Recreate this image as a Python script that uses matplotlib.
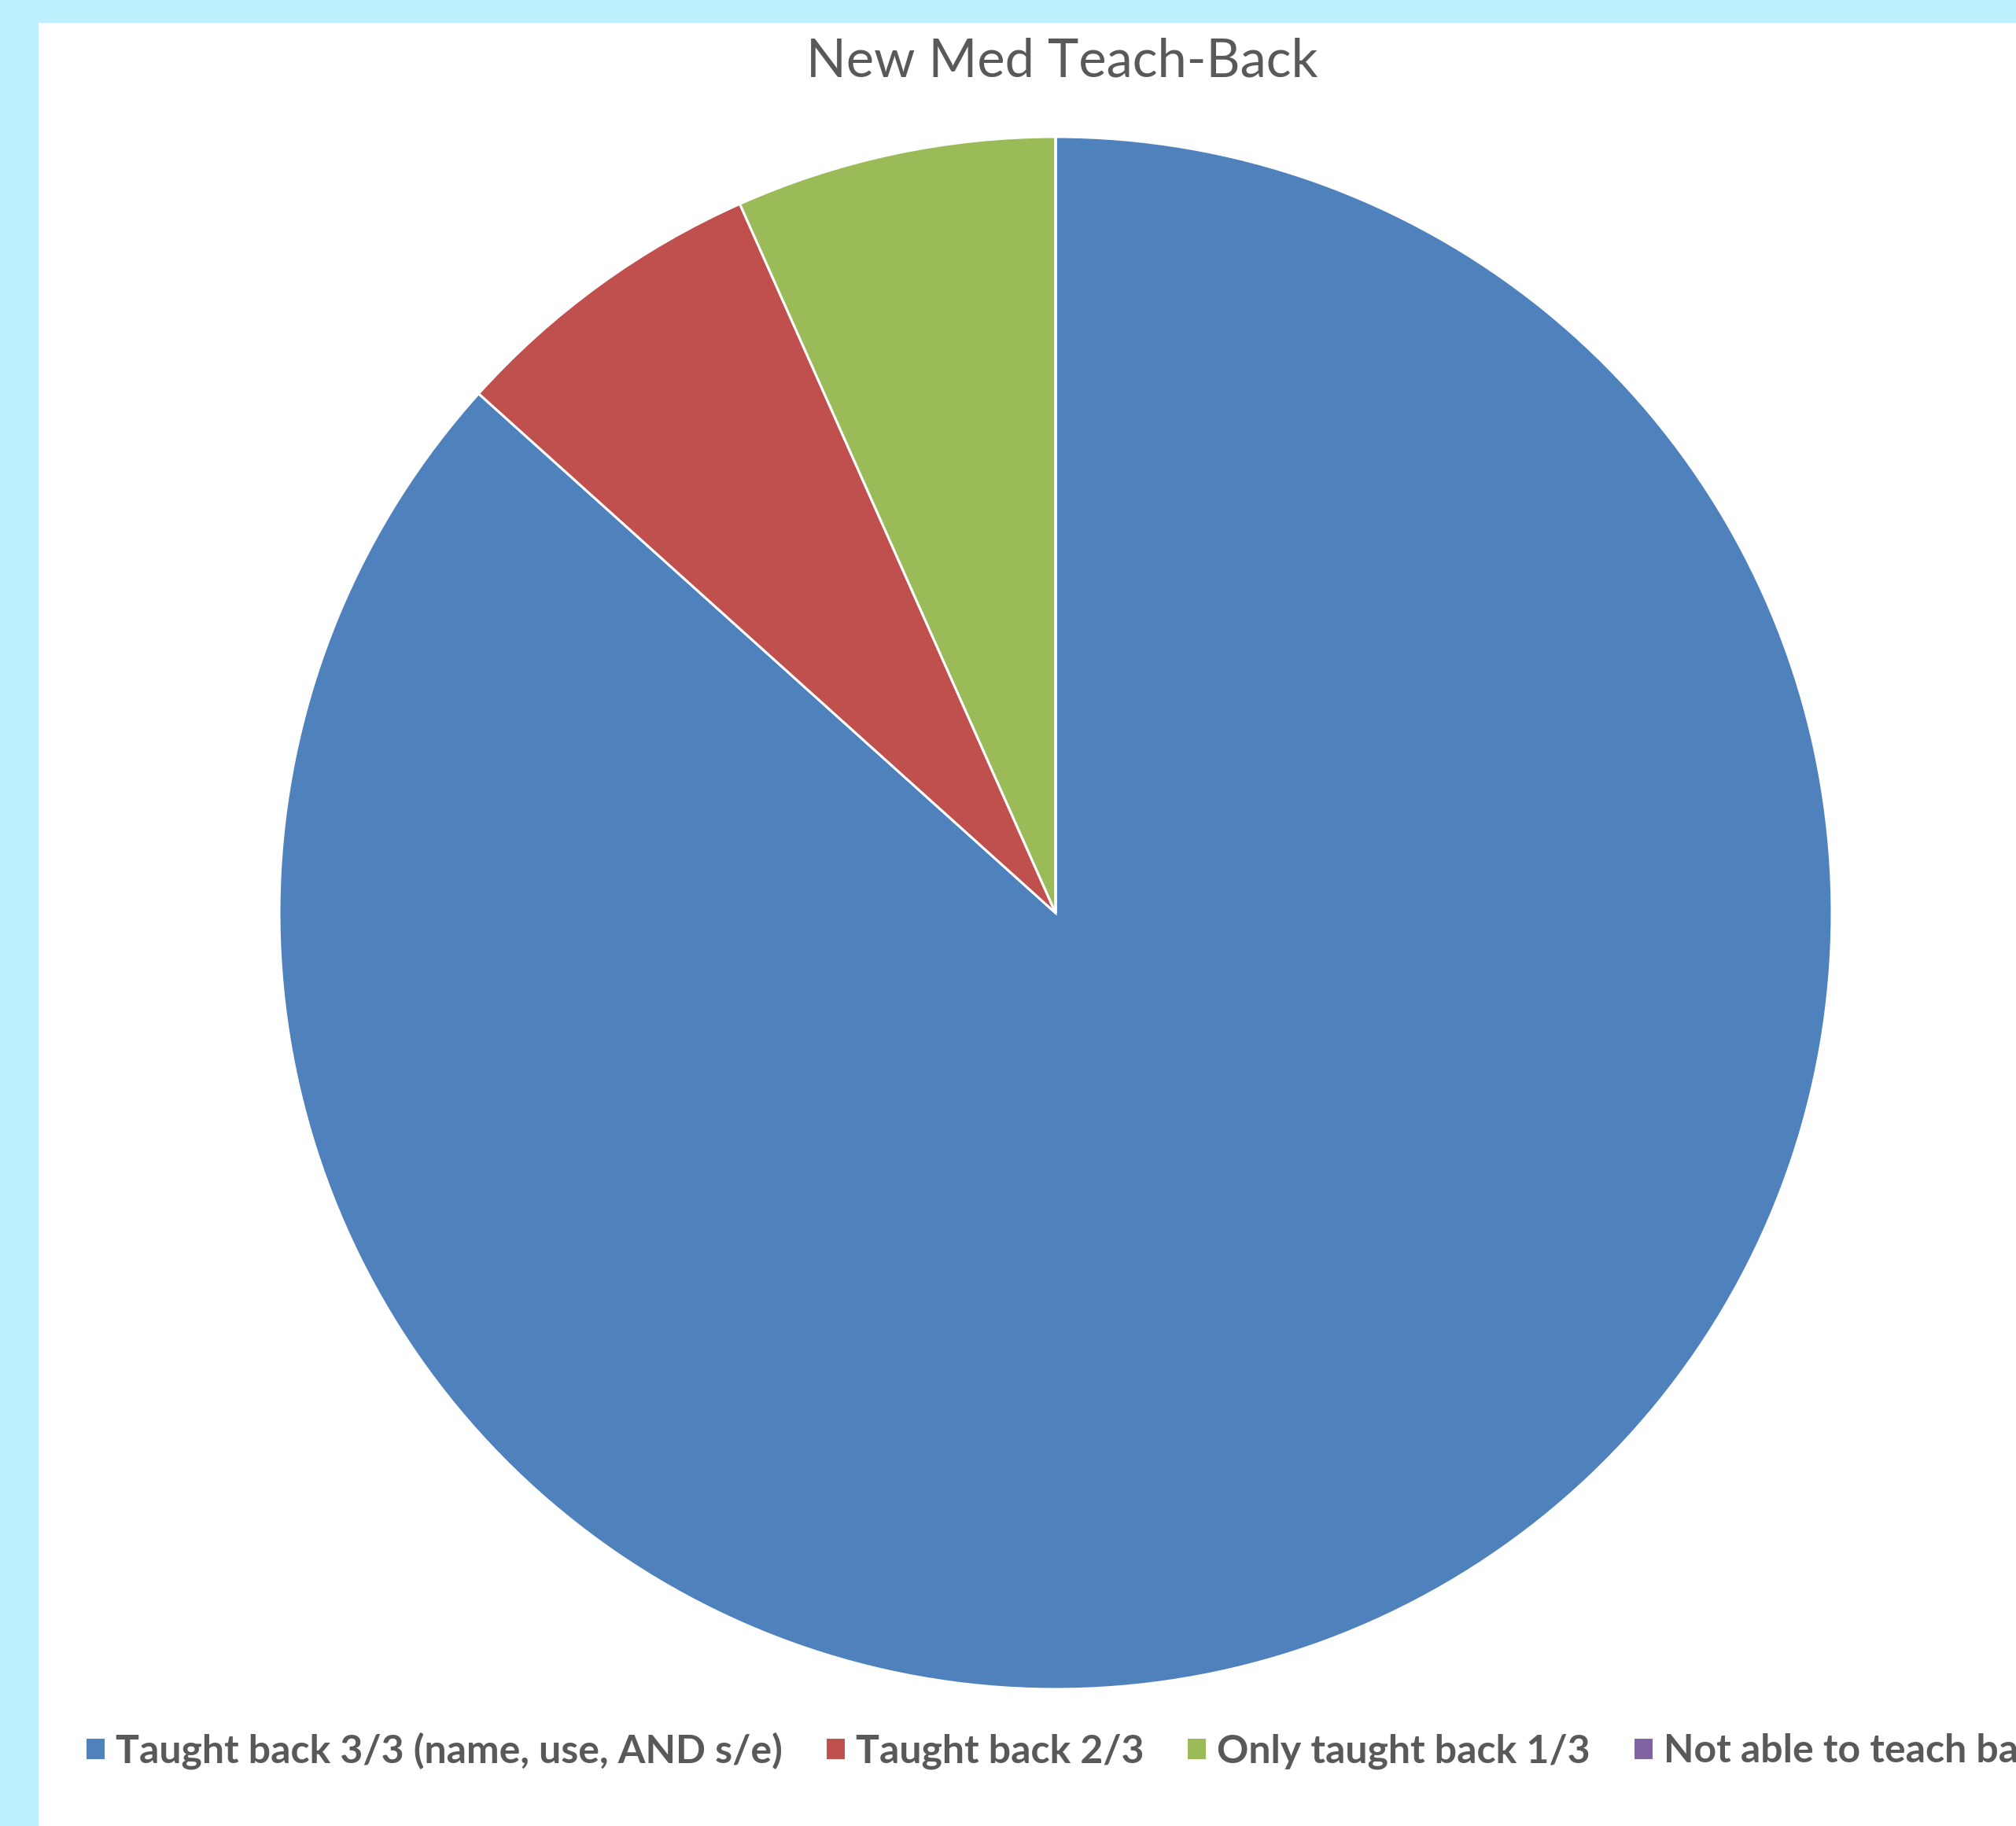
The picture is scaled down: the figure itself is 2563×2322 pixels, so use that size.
import matplotlib
matplotlib.use("Agg")
import matplotlib.pyplot as plt
from matplotlib.patches import Rectangle

# ---- data ----
title = "New Med Teach-Back"
categories = ["Taught back 3/3 (name, use, AND s/e)", "Taught back 2/3",
              "Only taught back 1/3", "Not able to teach back"]
values = [13, 1, 1, 0]
colors = ["#4F81BD", "#C0504D", "#9BBB59", "#8064A2"]

W, H = 2563, 2322
DPI = 100
fig = plt.figure(figsize=(W / DPI, H / DPI), dpi=DPI)
fig.patch.set_facecolor("#BDEFFD")

# white chart area
bg = Rectangle((49 / W, 0), 1 - 49 / W, 1 - 29 / H,
               transform=fig.transFigure, facecolor="white",
               edgecolor="none", zorder=-10)
fig.patches.append(bg)

cx, cy, r = 1342, 1161, 987
ax = fig.add_axes([(cx - r) / W, (H - cy - r) / H, 2 * r / W, 2 * r / H])
ax.set_zorder(5)
wedges, _ = ax.pie(values, colors=colors, startangle=90, counterclock=False,
                   radius=1.0,
                   wedgeprops=dict(edgecolor="white", linewidth=2.2))
ax.set_xlim(-1, 1)
ax.set_ylim(-1, 1)
ax.set_aspect("equal")
ax.axis("off")

fig.text(1350 / W, 1 - 78 / H, title, ha="center", va="center",
         fontsize=48, color="#595959", family=["Lato", "DejaVu Sans"],
         zorder=6)

fs = 36
leg = fig.legend(wedges, categories, loc="center left",
                 bbox_to_anchor=(108 / W, 96 / H), ncol=4, frameon=False,
                 borderpad=0, borderaxespad=0, handlelength=0.52,
                 handleheight=0.52, handletextpad=0.26, columnspacing=1.08,
                 prop=dict(family=["Lato", "DejaVu Sans"],
                           weight="bold", size=fs))
leg.set_zorder(6)
for t in leg.get_texts():
    t.set_color("#595959")

fig.savefig("out.png", dpi=DPI, facecolor=fig.get_facecolor())
